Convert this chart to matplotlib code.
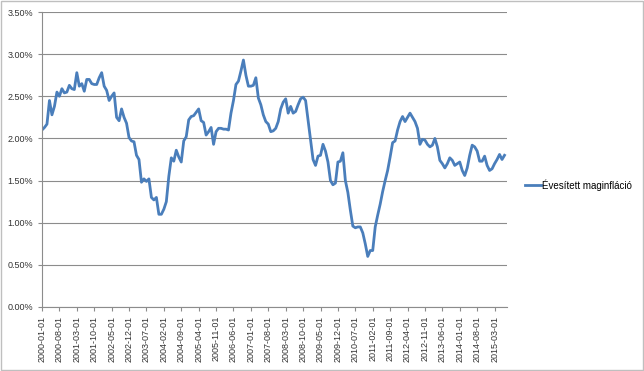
import pandas as pd
import matplotlib.pyplot as plt
from matplotlib.patches import Rectangle
from matplotlib.ticker import FuncFormatter

plt.rcParams['font.family'] = ['Liberation Sans', 'DejaVu Sans']

# monthly dates, 2000-01 .. 2015-07
dates = pd.date_range('2000-01-01', periods=187, freq='MS')

# annualised core inflation (%)
core_2000_2008 = [
    2.10, 2.13, 2.17, 2.45, 2.28, 2.38, 2.55, 2.50, 2.59, 2.54, 2.55, 2.63,
    2.59, 2.58, 2.78, 2.62, 2.65, 2.56, 2.70, 2.70, 2.65, 2.64, 2.64, 2.72,
    2.78, 2.62, 2.57, 2.45, 2.50, 2.54, 2.25, 2.21, 2.35, 2.25, 2.18, 2.01,
    1.97, 1.96, 1.80, 1.75, 1.48, 1.52, 1.49, 1.52, 1.30, 1.27, 1.30, 1.10,
    1.10, 1.16, 1.25, 1.55, 1.77, 1.73, 1.86, 1.78, 1.72, 1.97, 2.02, 2.22,
    2.26, 2.27, 2.31, 2.35, 2.21, 2.19, 2.04, 2.08, 2.13, 1.93, 2.08, 2.12,
    2.12, 2.11, 2.11, 2.10, 2.30, 2.45, 2.64, 2.68, 2.80, 2.93, 2.75, 2.62,
    2.62, 2.63, 2.72, 2.48, 2.40, 2.28, 2.20, 2.17, 2.08, 2.09, 2.12, 2.20,
    2.35, 2.43, 2.47, 2.30, 2.38, 2.30, 2.32, 2.40,
]
core_2008_2015 = [
    2.47, 2.49, 2.45, 2.22, 1.98, 1.75, 1.68, 1.79, 1.80, 1.93, 1.85, 1.72,
    1.50, 1.45, 1.47, 1.72, 1.73, 1.83, 1.50, 1.36, 1.15, 0.96, 0.94, 0.95,
    0.95, 0.88, 0.75, 0.60, 0.67, 0.67, 0.95, 1.09, 1.22, 1.37, 1.50, 1.62,
    1.78, 1.95, 1.97, 2.10, 2.20, 2.26, 2.20, 2.25, 2.30, 2.25, 2.20, 2.12,
    1.93, 1.99, 1.98, 1.93, 1.90, 1.92, 2.00, 1.90, 1.74, 1.70, 1.65, 1.70,
    1.77, 1.74, 1.68, 1.70, 1.72, 1.62, 1.56, 1.65, 1.80, 1.92, 1.90, 1.85,
    1.73, 1.73, 1.79, 1.68, 1.62, 1.64, 1.70, 1.75, 1.81, 1.75, 1.80,
]
core = core_2000_2008 + core_2008_2015
label = 'Évesített maginfláció'

fig = plt.figure(figsize=(6.44, 3.71), dpi=100)
ax = fig.add_axes([42 / 644, 64 / 371, 465 / 644, 295 / 371])

x = list(range(len(core)))
ax.plot(x, core, color='#4a7ebb', linewidth=2.0, label=label, solid_joinstyle='round')

ax.set_xlim(0, len(core))
ax.set_ylim(0, 3.5)
ax.set_yticks([i * 0.5 for i in range(8)])
ax.yaxis.set_major_formatter(FuncFormatter(lambda v, p: f'{v:.2f}%'))

tick_pos = list(range(0, len(core), 7))
ax.set_xticks(tick_pos)
ax.set_xticklabels([dates[i].strftime('%Y-%m-%d') for i in tick_pos], rotation=90)

ax.grid(axis='y', color='#8c8c8c', linewidth=0.8)
ax.set_axisbelow(True)
for side in ['top', 'right']:
    ax.spines[side].set_visible(False)
for side in ['left', 'bottom']:
    ax.spines[side].set_color('#8c8c8c')
    ax.spines[side].set_linewidth(0.8)
ax.tick_params(axis='both', colors='#8c8c8c', labelcolor='#333333',
               labelsize=6.5, length=3, width=0.8, direction='out')

ax.legend(loc='center left', bbox_to_anchor=(1.02, 0.414), frameon=False,
          fontsize=7, handlelength=1.6, handletextpad=0.1)

fig.patches.append(Rectangle((0.002, 0.003), 0.996, 0.994, transform=fig.transFigure,
                             fill=False, edgecolor='#bfbfbf', linewidth=1))

plt.savefig('out.png', dpi=100)
